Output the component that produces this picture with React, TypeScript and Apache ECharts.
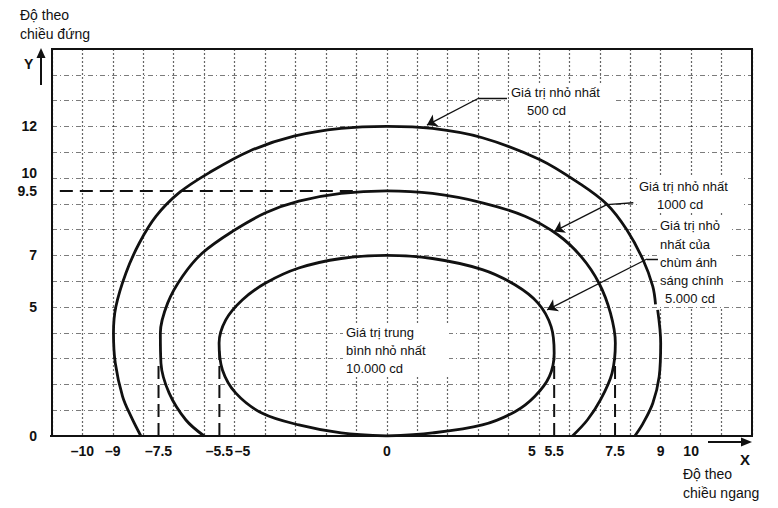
import React, { useEffect, useRef } from "react";
import * as echarts from "echarts";

// Tick labels shown on the axes
const xTickLabels = [-10, -9, -7.5, -5.5, -5, 0, 5, 5.5, 7.5, 9, 10];
const yTickLabels = [0, 5, 7, 9.5, 10, 12];

// Isolux curves ([x, y])
const curve500a = [
  [-8.08, 0], [-8.4, 0.75], [-8.68, 1.53], [-8.92, 2.82], [-8.98, 4.0],
  [-8.9, 5.02], [-8.57, 6.32], [-8.13, 7.48], [-7.58, 8.52], [-6.82, 9.43],
  [-5.84, 10.2], [-4.52, 11.04], [-3.05, 11.62], [-1.5, 11.92], [0, 12],
  [1.5, 11.92], [3.14, 11.56], [5.02, 10.72], [6.38, 9.75], [7.24, 8.97],
  [7.88, 8.0], [8.42, 6.83], [8.74, 5.8], [8.83, 5.1],
];
const curve500b = [
  [8.9, 4.89], [9.0, 3.6], [8.95, 2.3], [8.74, 1.27], [8.42, 0.49], [8.15, 0],
];
const curve1000 = [
  [-6.0, 0], [-6.6, 0.62], [-7.15, 1.66], [-7.42, 2.82], [-7.44, 3.99],
  [-7.2, 5.15], [-6.71, 6.19], [-6.06, 7.09], [-5.07, 7.93], [-3.98, 8.65],
  [-2.89, 9.1], [-1.5, 9.4], [0, 9.5], [1.5, 9.4], [3.14, 9.04], [4.54, 8.52],
  [5.62, 7.8], [6.38, 6.96], [6.97, 5.93], [7.35, 4.76], [7.51, 3.6],
  [7.4, 2.43], [7.02, 1.4], [6.59, 0.62], [6.1, 0],
];
const curve5000 = [
  [0, 0], [-1.5, 0.12], [-2.89, 0.43], [-4.09, 0.88], [-4.96, 1.66],
  [-5.4, 2.56], [-5.51, 3.6], [-5.29, 4.5], [-4.74, 5.28], [-3.98, 5.93],
  [-2.89, 6.51], [-1.5, 6.88], [0, 7], [1.5, 6.88], [3.14, 6.45], [4.21, 5.86],
  [4.97, 5.15], [5.4, 4.24], [5.5, 3.21], [5.34, 2.3], [4.86, 1.53],
  [4.21, 0.94], [3.14, 0.43], [1.5, 0.12], [0, 0],
];

// Dashed reference lines
const markerX = [-7.5, -5.5, 5.5, 7.5];
const markerTop = [2.85, 3.3, 3.1, 3.7];
const refY = 9.5;
const refYSpan = [-11.4, -0.9];

// Leader lines (horizontal stub, then arrow to the curve)
const leaderStubs = [
  [[3.95, 13.08], [3.0, 13.08]],
  [[8.1, 9.04], [7.23, 8.97]],
  [[8.91, 6.86], [8.55, 6.86]],
];
const leaderArrows = [
  [[3.0, 13.08], [1.32, 12.05]],
  [[7.23, 8.97], [5.5, 7.93]],
  [[8.55, 6.86], [5.27, 4.89]],
];

const labelFont = "'Liberation Sans Narrow', 'Liberation Sans', Arial, sans-serif";
const textFont = "'Liberation Sans', Arial, sans-serif";

export default function App() {
  const ref = useRef<HTMLDivElement>(null);
  useEffect(() => {
    if (!ref.current) return;
    const chart = echarts.init(ref.current, undefined, { renderer: "svg" });
    const near = (a: number, b: number) => Math.abs(a - b) < 1e-6;
    const fmtX = (v: number) => {
      if (!xTickLabels.some((t) => near(t, v))) return "";
      const s = v < 0 ? "\u2013" + Math.abs(v) : String(v);
      if (near(v, -5)) return "{r|" + s + "}";
      if (near(v, 5)) return "{l|" + s + "}";
      return s;
    };
    const fmtY = (v: number) => {
      if (!yTickLabels.some((t) => near(t, v))) return "";
      if (near(v, 10)) return "{u|" + v + "}";
      return String(v);
    };
    const lblStyle = {
      color: "#111",
      fontFamily: labelFont,
      fontWeight: "bold" as const,
      fontSize: 14,
    };
    const curveStyle = { color: "#111", width: 2.8 };
    const curve = (data: number[][]) => ({
      type: "line",
      data,
      smooth: 0.35,
      showSymbol: false,
      symbol: "none",
      lineStyle: curveStyle,
      silent: true,
      z: 5,
    });
    const txt = (text: string, x: number, y: number, extra: any = {}) => ({
      type: "text",
      x,
      y,
      z: 20,
      style: {
        text,
        fill: "#111",
        font: `13px ${textFont}`,
        verticalAlign: "middle",
        ...extra,
      },
    });
    const blank = (x: number, y: number, w: number, h: number) => ({
      type: "rect",
      z: 15,
      shape: { x, y, width: w, height: h },
      style: { fill: "#fff" },
    });
    const series: any[] = [
      curve(curve500a),
      curve(curve500b),
      curve(curve1000),
      curve(curve5000),
      ...markerX.map((x, i) => ({
        type: "line",
        data: [[x, 0], [x, markerTop[i]]],
        showSymbol: false,
        symbol: "none",
        lineStyle: { color: "#111", width: 2, type: [13, 6] },
        z: 4,
      })),
      {
        type: "line",
        data: [[refYSpan[0], refY], [refYSpan[1], refY]],
        showSymbol: false,
        symbol: "none",
        clip: false,
        lineStyle: { color: "#111", width: 2, type: [13, 7] },
        z: 4,
      },
      {
        type: "line",
        data: [[-11.3, 0], [12, 0]],
        showSymbol: false,
        symbol: "none",
        clip: false,
        lineStyle: { color: "#111", width: 2.2 },
        z: 6,
      },
      {
        type: "lines",
        coordinateSystem: "cartesian2d",
        data: leaderStubs.map((c) => ({ coords: c })),
        symbol: ["none", "none"],
        lineStyle: { color: "#111", width: 1.3, opacity: 1 },
        z: 6,
      },
      {
        type: "lines",
        coordinateSystem: "cartesian2d",
        data: leaderArrows.map((c) => ({ coords: c })),
        symbol: ["none", "arrow"],
        symbolSize: [7, 10],
        lineStyle: { color: "#111", width: 1.3, opacity: 1 },
        itemStyle: { color: "#111" },
        z: 6,
      },
    ];
    chart.setOption({
      animation: false,
      backgroundColor: "#fff",
      grid: {
        left: 52,
        top: 49,
        width: 700,
        height: 387,
        show: true,
        borderColor: "#111",
        borderWidth: 2,
        backgroundColor: "transparent",
        z: 3,
      },
      xAxis: [
        {
          type: "value",
          min: -11,
          max: 12,
          interval: 0.5,
          axisLine: { show: false },
          axisTick: { show: false },
          splitLine: { show: false },
          axisLabel: {
            formatter: fmtX,
            margin: 8,
            ...lblStyle,
            rich: {
              r: { ...lblStyle, padding: [0, 0, 0, 16] },
              l: { ...lblStyle, padding: [0, 14, 0, 0] },
            },
          },
        },
        {
          type: "value",
          min: -11,
          max: 12,
          interval: 1,
          position: "bottom",
          axisLine: { show: false },
          axisTick: { show: false },
          axisLabel: { show: false },
          splitLine: {
            show: true,
            lineStyle: { color: "#333", width: 1.2, type: [2, 2], opacity: 0.75 },
          },
        },
      ],
      yAxis: [
        {
          type: "value",
          min: 0,
          max: 15,
          interval: 0.5,
          axisLine: { show: false },
          axisTick: { show: false },
          splitLine: { show: false },
          axisLabel: {
            formatter: fmtY,
            margin: 15,
            ...lblStyle,
            rich: {
              u: { ...lblStyle, padding: [0, 0, 10, 0] },
            },
          },
        },
        {
          type: "value",
          min: 0,
          max: 15,
          interval: 1,
          position: "left",
          axisLine: { show: false },
          axisTick: { show: false },
          axisLabel: { show: false },
          splitLine: {
            show: true,
            lineStyle: { color: "#444", width: 1, type: [5, 3, 1, 3], opacity: 0.7 },
          },
        },
      ],
      series,
      graphic: [
        blank(509, 83, 104, 36),
        blank(637, 177, 107, 36),
        blank(658, 216, 74, 91),
        blank(343, 323, 106, 54),
        txt("Độ theo", 20, 15, { font: `14px ${textFont}` }),
        txt("chiều đứng", 20, 34, { font: `14px ${textFont}` }),
        txt("Y", 24, 64, { font: `bold 14px ${labelFont}` }),
        { type: "line", shape: { x1: 41, y1: 85, x2: 41, y2: 56 }, style: { stroke: "#111", lineWidth: 2 } },
        { type: "polygon", shape: { points: [[41, 48], [36.5, 58], [45.5, 58]] }, style: { fill: "#111" } },
        { type: "line", shape: { x1: 708, y1: 442, x2: 744, y2: 442 }, style: { stroke: "#111", lineWidth: 2 } },
        { type: "polygon", shape: { points: [[752, 442], [741, 437.5], [741, 446.5]] }, style: { fill: "#111" } },
        txt("X", 740, 459, { font: `bold 15px ${labelFont}` }),
        txt("Độ theo", 683, 474, { font: `14px ${textFont}` }),
        txt("chiều ngang", 683, 493, { font: `14px ${textFont}` }),
        txt("Giá trị nhỏ nhất", 511, 92),
        txt("500 cd", 527, 110),
        txt("Giá trị nhỏ nhất", 639, 186),
        txt("1000 cd", 657, 204),
        txt("Giá trị nhỏ", 660, 225),
        txt("nhất của", 660, 244),
        txt("chùm ánh", 660, 262),
        txt("sáng chính", 660, 280),
        txt("5.000 cd", 665, 298),
        txt("Giá trị trung", 346, 332),
        txt("bình nhỏ nhất", 346, 350),
        txt("10.000 cd", 346, 368),
      ],
    });
    return () => chart.dispose();
  }, []);
  return (
    <div
      ref={ref}
      style={{ position: "absolute", left: 0, top: 0, width: 778, height: 508 }}
    />
  );
}
